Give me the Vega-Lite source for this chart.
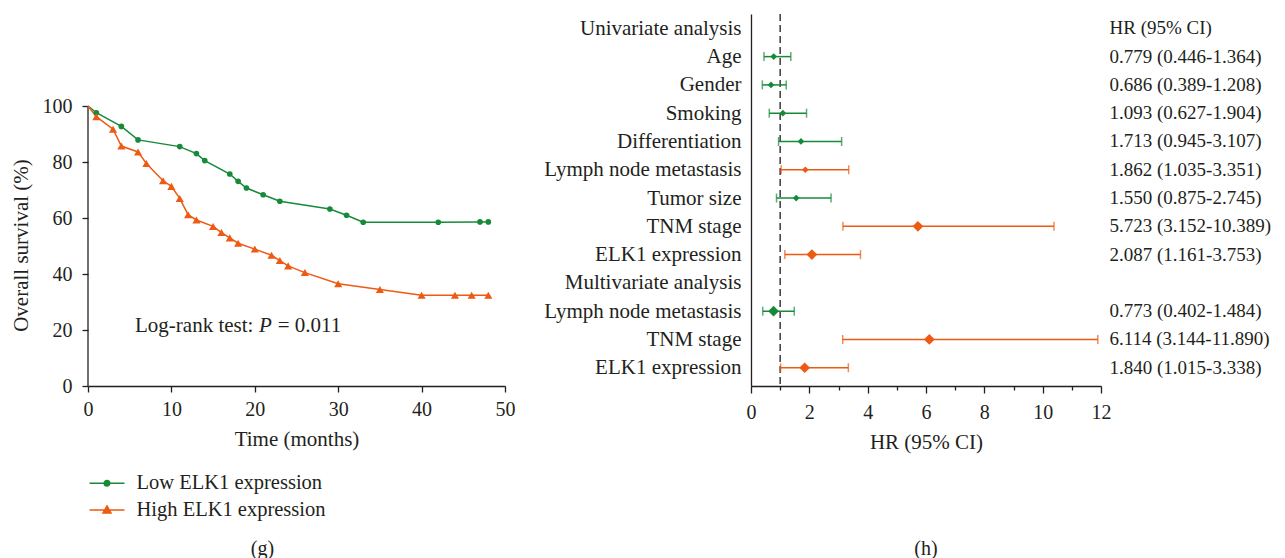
{
  "$schema": "https://vega.github.io/schema/vega-lite/v6.json",
  "padding": {"left": 10, "top": 13, "right": 0, "bottom": 0},
  "background": "white",
  "spacing": 28,
  "resolve": {"scale": {"color": "independent"}, "legend": {"color": "independent"}},
  "config": {
    "view": {"stroke": null},
    "font": "Liberation Serif",
    "axis": {
      "labelFont": "Liberation Serif",
      "titleFont": "Liberation Serif",
      "labelColor": "#231f20",
      "titleColor": "#231f20",
      "domainColor": "#231f20",
      "tickColor": "#231f20",
      "grid": false,
      "titleFontWeight": "normal",
      "domainWidth": 1.3,
      "tickWidth": 1.3
    },
    "title": {"font": "Liberation Serif", "fontWeight": "normal", "color": "#231f20", "fontSize": 20},
    "text": {"font": "Liberation Serif", "color": "#231f20"}
  },
  "hconcat": [
    {
      "width": 417,
      "height": 372,
      "title": {"text": "(g)", "orient": "bottom", "frame": "bounds", "anchor": "middle", "offset": 18},
      "data": {
        "values": [
          {"group": "Low ELK1 expression", "t": 0, "s": 100},
          {"group": "Low ELK1 expression", "t": 1, "s": 97.6},
          {"group": "Low ELK1 expression", "t": 4, "s": 92.7},
          {"group": "Low ELK1 expression", "t": 6, "s": 87.9},
          {"group": "Low ELK1 expression", "t": 11, "s": 85.5},
          {"group": "Low ELK1 expression", "t": 13, "s": 83.0},
          {"group": "Low ELK1 expression", "t": 14, "s": 80.5},
          {"group": "Low ELK1 expression", "t": 17, "s": 75.7},
          {"group": "Low ELK1 expression", "t": 18, "s": 73.1},
          {"group": "Low ELK1 expression", "t": 19, "s": 70.7},
          {"group": "Low ELK1 expression", "t": 21, "s": 68.3},
          {"group": "Low ELK1 expression", "t": 23, "s": 66.0},
          {"group": "Low ELK1 expression", "t": 29, "s": 63.2},
          {"group": "Low ELK1 expression", "t": 31, "s": 61.0},
          {"group": "Low ELK1 expression", "t": 33, "s": 58.5},
          {"group": "Low ELK1 expression", "t": 42, "s": 58.5},
          {"group": "Low ELK1 expression", "t": 47, "s": 58.6},
          {"group": "Low ELK1 expression", "t": 48, "s": 58.6},
          {"group": "High ELK1 expression", "t": 0, "s": 100},
          {"group": "High ELK1 expression", "t": 1, "s": 96.2},
          {"group": "High ELK1 expression", "t": 3, "s": 91.7},
          {"group": "High ELK1 expression", "t": 4, "s": 85.7},
          {"group": "High ELK1 expression", "t": 6, "s": 83.6},
          {"group": "High ELK1 expression", "t": 7, "s": 79.5},
          {"group": "High ELK1 expression", "t": 9, "s": 73.3},
          {"group": "High ELK1 expression", "t": 10, "s": 71.3},
          {"group": "High ELK1 expression", "t": 11, "s": 67.0},
          {"group": "High ELK1 expression", "t": 12, "s": 61.2},
          {"group": "High ELK1 expression", "t": 13, "s": 59.3},
          {"group": "High ELK1 expression", "t": 15, "s": 57.0},
          {"group": "High ELK1 expression", "t": 16, "s": 54.8},
          {"group": "High ELK1 expression", "t": 17, "s": 52.9},
          {"group": "High ELK1 expression", "t": 18, "s": 51.0},
          {"group": "High ELK1 expression", "t": 20, "s": 48.9},
          {"group": "High ELK1 expression", "t": 22, "s": 46.7},
          {"group": "High ELK1 expression", "t": 23, "s": 44.8},
          {"group": "High ELK1 expression", "t": 24, "s": 42.9},
          {"group": "High ELK1 expression", "t": 26, "s": 40.5},
          {"group": "High ELK1 expression", "t": 30, "s": 36.5},
          {"group": "High ELK1 expression", "t": 35, "s": 34.5},
          {"group": "High ELK1 expression", "t": 40, "s": 32.4},
          {"group": "High ELK1 expression", "t": 44, "s": 32.4},
          {"group": "High ELK1 expression", "t": 46, "s": 32.4},
          {"group": "High ELK1 expression", "t": 48, "s": 32.4}
        ]
      },
      "layer": [
        {
          "data": {"values": [{}]},
          "mark": {"type": "rule", "strokeWidth": 1.3, "color": "#231f20"},
          "encoding": {
            "x": {"datum": 0, "type": "quantitative"},
            "y": {"datum": 0, "type": "quantitative"},
            "y2": {"datum": 100}
          }
        },
        {
          "mark": {"type": "line", "strokeWidth": 1.5},
          "encoding": {
            "x": {
              "field": "t", "type": "quantitative",
              "scale": {"domain": [0, 50], "nice": false},
              "axis": {"values": [0, 10, 20, 30, 40, 50], "title": "Time (months)", "labelFontSize": 20, "titleFontSize": 21, "tickSize": 6, "labelPadding": 7, "titlePadding": 9, "labelFlush": false}
            },
            "y": {
              "field": "s", "type": "quantitative",
              "scale": {"domain": [0, 132.86], "nice": false, "zero": true},
              "axis": {"values": [0, 20, 40, 60, 80, 100], "title": "Overall survival (%)", "domain": false, "tickSize": 6, "labelPadding": 10, "labelFontSize": 20, "titleFontSize": 21, "titleY": 231, "titleAlign": "center", "titlePadding": 11}
            },
            "color": {
              "field": "group", "type": "nominal",
              "scale": {"domain": ["Low ELK1 expression", "High ELK1 expression"], "range": ["#178a3a", "#ee5a12"]},
              "legend": {
                "title": null,
                "orient": "bottom",
                "direction": "vertical",
                "symbolType": "M-1,0H3",
                "symbolSize": 306,
                "symbolStrokeWidth": 1.5,
                "labelFontSize": 20.5,
                "labelFont": "Liberation Serif",
                "labelColor": "#231f20",
                "labelLimit": 400,
                "labelOffset": 28,
                "rowPadding": 5.7,
                "offset": 24,
                "encode": {
                  "symbols": {
                    "update": {
                      "shape": {"signal": "datum.value == 'Low ELK1 expression' ? 'M-1,0H3M1.32,0A0.32,0.32,0,1,1,0.68,0A0.32,0.32,0,1,1,1.32,0Z' : 'M-1,0H3M1,-0.46L1.46,0.36L0.54,0.36Z'"},
                      "fill": {"signal": "datum.value == 'Low ELK1 expression' ? '#178a3a' : '#ee5a12'"},
                      "stroke": {"signal": "datum.value == 'Low ELK1 expression' ? '#178a3a' : '#ee5a12'"},
                      "opacity": {"value": 1}
                    }
                  }
                }
              }
            }
          }
        },
        {
          "transform": [{"filter": "datum.t > 0 && datum.group == 'Low ELK1 expression'"}],
          "mark": {"type": "point", "filled": true, "opacity": 1, "shape": "circle", "size": 32},
          "encoding": {
            "x": {"field": "t", "type": "quantitative"},
            "y": {"field": "s", "type": "quantitative"},
            "color": {"field": "group", "type": "nominal"}
          }
        },
        {
          "transform": [{"filter": "datum.t > 0 && datum.group == 'High ELK1 expression'"}],
          "mark": {"type": "point", "filled": true, "opacity": 1, "shape": "triangle-up", "size": 66},
          "encoding": {
            "x": {"field": "t", "type": "quantitative"},
            "y": {"field": "s", "type": "quantitative"},
            "color": {"field": "group", "type": "nominal"}
          }
        },
        {
          "data": {"values": [{"txt": "Log-rank test:"}]},
          "mark": {"type": "text", "align": "left", "baseline": "middle", "fontSize": 21},
          "encoding": {"x": {"datum": 5.64}, "y": {"datum": 21.5}, "text": {"field": "txt"}}
        },
        {
          "data": {"values": [{"txt": "P"}]},
          "mark": {"type": "text", "align": "left", "baseline": "middle", "fontSize": 21, "fontStyle": "italic"},
          "encoding": {"x": {"datum": 20.5}, "y": {"datum": 21.5}, "text": {"field": "txt"}}
        },
        {
          "data": {"values": [{"txt": "= 0.011"}]},
          "mark": {"type": "text", "align": "left", "baseline": "middle", "fontSize": 21},
          "encoding": {"x": {"datum": 22.75}, "y": {"datum": 21.5}, "text": {"field": "txt"}}
        }
      ]
    },
    {
      "width": 350,
      "height": 372,
      "title": {"text": "(h)", "orient": "bottom", "frame": "group", "anchor": "middle", "offset": 87},
      "data": {
        "values": [
          {"key": "01|Univariate analysis", "hr": null, "lo": null, "hi": null, "txt": "HR (95% CI)"},
          {"key": "02|Age", "hr": 0.779, "lo": 0.446, "hi": 1.364, "txt": "0.779 (0.446-1.364)"},
          {"key": "03|Gender", "hr": 0.686, "lo": 0.389, "hi": 1.208, "txt": "0.686 (0.389-1.208)"},
          {"key": "04|Smoking", "hr": 1.093, "lo": 0.627, "hi": 1.904, "txt": "1.093 (0.627-1.904)"},
          {"key": "05|Differentiation", "hr": 1.713, "lo": 0.945, "hi": 3.107, "txt": "1.713 (0.945-3.107)"},
          {"key": "06|Lymph node metastasis", "hr": 1.862, "lo": 1.035, "hi": 3.351, "txt": "1.862 (1.035-3.351)"},
          {"key": "07|Tumor size", "hr": 1.550, "lo": 0.875, "hi": 2.745, "txt": "1.550 (0.875-2.745)"},
          {"key": "08|TNM stage", "hr": 5.723, "lo": 3.152, "hi": 10.389, "txt": "5.723 (3.152-10.389)"},
          {"key": "09|ELK1 expression", "hr": 2.087, "lo": 1.161, "hi": 3.753, "txt": "2.087 (1.161-3.753)"},
          {"key": "10|Multivariate analysis", "hr": null, "lo": null, "hi": null, "txt": ""},
          {"key": "11|Lymph node metastasis", "hr": 0.773, "lo": 0.402, "hi": 1.484, "txt": "0.773 (0.402-1.484)"},
          {"key": "12|TNM stage", "hr": 6.114, "lo": 3.144, "hi": 11.890, "txt": "6.114 (3.144-11.890)"},
          {"key": "13|ELK1 expression", "hr": 1.840, "lo": 1.015, "hi": 3.338, "txt": "1.840 (1.015-3.338)"}
        ]
      },
      "resolve": {"axis": {"x": "independent"}},
      "layer": [
        {
          "mark": {"type": "text", "align": "left", "baseline": "middle", "dx": 8.5, "fontSize": 19},
          "encoding": {
            "x": {"datum": 12, "type": "quantitative", "axis": null},
            "y": {
              "field": "key", "type": "nominal",
              "scale": {"type": "point", "padding": 0.576, "align": 0.44},
              "axis": {"title": null, "ticks": false, "tickSize": 0, "labelPadding": 10, "labelFontSize": 21, "labelLimit": 400, "labelExpr": "split(datum.value, '|')[1]"}
            },
            "text": {"field": "txt"}
          }
        },
        {
          "data": {"values": [{}]},
          "mark": {"type": "rule", "strokeDash": [7, 4], "color": "#3a3a3a", "strokeWidth": 1.5},
          "encoding": {"x": {"datum": 1, "type": "quantitative", "axis": null}}
        },
        {
          "transform": [{"filter": "isValid(datum.hr)"}],
          "mark": {"type": "rule", "strokeWidth": 1.5},
          "encoding": {
            "x": {
              "field": "lo", "type": "quantitative",
              "scale": {"domain": [0, 12], "nice": false},
              "axis": {"orient": "bottom", "values": [0, 2, 4, 6, 8, 10, 12], "title": "HR (95% CI)", "labelFontSize": 20, "titleFontSize": 21, "tickSize": 7, "labelPadding": 9, "titlePadding": 9, "labelFlush": false}
            },
            "x2": {"field": "hi"},
            "y": {"field": "key", "type": "nominal"},
            "color": {"condition": {"test": "datum.lo > 1", "value": "#ee5a12"}, "value": "#178a3a"}
          }
        },
        {
          "transform": [{"filter": "isValid(datum.hr)"}],
          "mark": {"type": "tick", "thickness": 1.5, "size": 9},
          "encoding": {
            "x": {"field": "lo", "type": "quantitative", "axis": null},
            "y": {"field": "key", "type": "nominal"},
            "color": {"condition": {"test": "datum.lo > 1", "value": "#ee5a12"}, "value": "#178a3a"}
          }
        },
        {
          "transform": [{"filter": "isValid(datum.hr)"}],
          "mark": {"type": "tick", "thickness": 1.5, "size": 9},
          "encoding": {
            "x": {"field": "hi", "type": "quantitative", "axis": {"orient": "bottom", "values": [1, 3, 5, 7, 9, 11], "tickSize": 4, "labels": false, "domain": false, "title": null}},
            "y": {"field": "key", "type": "nominal"},
            "color": {"condition": {"test": "datum.lo > 1", "value": "#ee5a12"}, "value": "#178a3a"}
          }
        },
        {
          "transform": [{"filter": "isValid(datum.hr)"}],
          "mark": {"type": "point", "shape": "diamond", "filled": true, "opacity": 1},
          "encoding": {
            "x": {"field": "hr", "type": "quantitative", "axis": null},
            "y": {"field": "key", "type": "nominal"},
            "color": {"condition": {"test": "datum.lo > 1", "value": "#ee5a12"}, "value": "#178a3a"},
            "size": {"condition": {"test": "indexof(['08','09','11','12','13'], slice(datum.key, 0, 2)) >= 0", "value": 115}, "value": 45}
          }
        }
      ]
    }
  ]
}
